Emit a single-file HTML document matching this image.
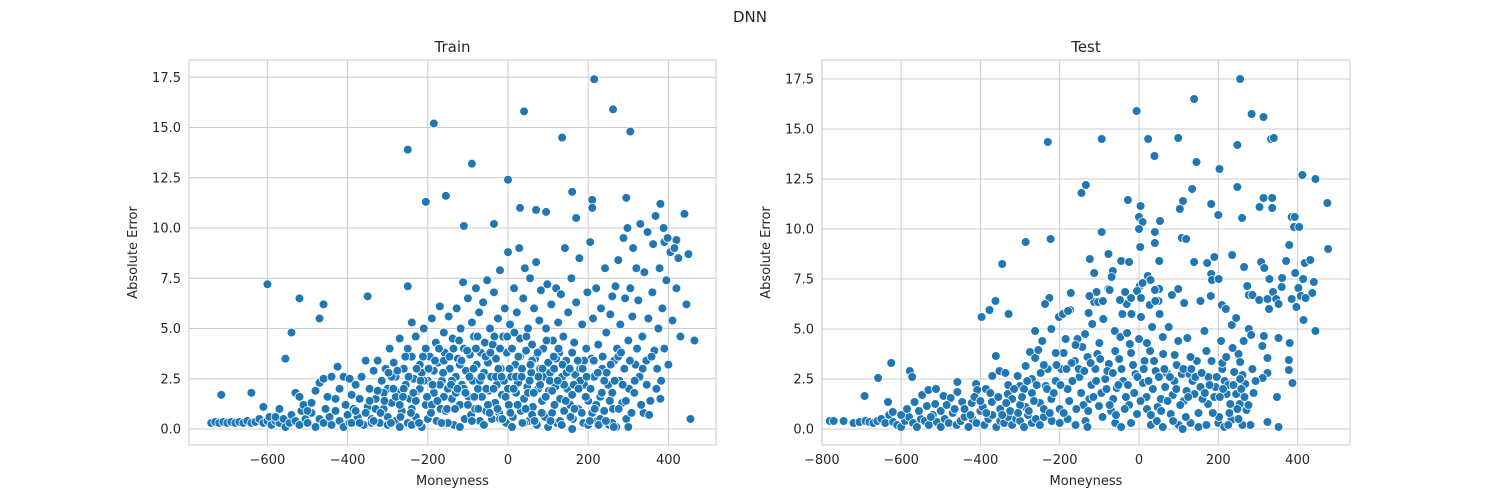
<!DOCTYPE html>
<html><head><meta charset="utf-8">
<style>
body{margin:0;background:#fff;}
svg{display:block;font-family:"DejaVu Sans","Liberation Sans",sans-serif;}
</style></head>
<body>
<svg id="fig" width="1500" height="500" viewBox="0 0 1500 500">
<rect width="1500" height="500" fill="#fff"/>
<text x="750" y="22" text-anchor="middle" font-size="15" fill="#262626">DNN</text>
</svg>
<script>
// ---------- data ----------
const xTicksTrain = [-600,-400,-200,0,200,400];
const xTicksTest = [-800,-600,-400,-200,0,200,400];
const yTicks = [0,2.5,5,7.5,10,12.5,15,17.5];
const yTickLabels = ["0.0","2.5","5.0","7.5","10.0","12.5","15.0","17.5"];

const trainMoneyness = [];
const trainError = [];
const trainPoints = [
[215,17.4],[40,15.8],[262,15.9],[-185,15.2],[305,14.8],[135,14.5],[-250,13.9],[-90,13.2],[0,12.4],[-155,11.6],[-205,11.3],[160,11.8],[210,11.4],[295,11.5],[380,11.2],[30,11.0],[70,10.9],[95,10.8],[210,11.0],[440,10.7],[-110,10.1],[-35,10.2],[170,10.5],[330,10.2],
[-600,7.2],[-715,1.7],[-640,1.8],[-520,6.5],[-460,6.2],[-470,5.5],[-540,4.8],[-555,3.5],[-350,6.6],[-250,7.1],[450,8.7],[465,4.4],[455,0.5],[445,6.2],[390,9.3],[420,9.4],
[-740,.3],[-730,.35],[-720,.3],[-710,.35],[-700,.3],[-690,.35],[-680,.3],[-670,.35],[-660,.3],[-650,.4],[-640,.3],[-630,.35],[-620,.5],[-610,.3],[-600,.4],[-595,.6],[-590,.2],[-580,.4],[-570,.3],[-560,.5],[-555,.1],[-545,.3],[-540,.7],[-530,.4],[-520,.2],[-515,.9],[-505,.5],[-500,.3],[-490,.8],[-480,.1],[-470,.5],[-460,.3],[-455,1.0],[-445,.6],[-440,.2],[-430,.9],[-420,.4],[-410,.1],[-400,.7],[-395,.3],
[-610,1.1],[-580,.6],[-570,1.0],[-530,1.8],[-520,1.6],[-510,1.2],[-500,.9],[-490,1.3],[-480,1.9],[-470,2.3],[-460,2.5],[-450,1.6],[-440,2.6],[-430,1.5],[-425,3.1],[-420,2.0],[-410,2.6],[-405,1.2],[-395,2.5],[-390,1.7],
[-390,.3],[-385,1.0],[-380,2.2],[-375,.6],[-370,1.5],[-365,2.6],[-360,.2],[-355,3.4],[-350,1.1],[-345,2.0],[-340,.5],[-335,2.9],[-330,1.5],[-325,3.4],[-320,.3],[-315,2.4],[-310,1.0],[-305,3.0],[-300,.6],[-300,2.0],[-295,4.0],[-290,1.3],[-285,3.3],[-280,.4],[-280,2.6],[-275,1.8],[-270,4.5],[-265,.9],[-260,3.0],[-255,2.2],[-250,4.0],[-250,.3],[-245,1.5],[-240,3.6],[-240,5.3],[-235,2.5],[-230,.6],[-230,4.6],[-225,1.9],[-220,3.2],[-215,.1],[-215,2.8],[-210,5.0],[-205,1.2],[-205,4.0],[-200,2.4],[-200,.5],[-195,3.6],[-190,5.5],[-185,1.8],[-185,2.9],[-180,4.3],[-178,.4],[-175,3.3],[-170,6.1],[-168,1.0],[-165,2.4],[-160,4.8],[-158,3.8],[-155,.9],[-150,2.0],[-148,5.6],[-145,3.0],[-140,1.5],[-138,4.5],[-135,.2],[-130,2.6],[-128,6.0],[-125,3.5],[-120,1.2],[-118,5.0],[-115,2.2],[-112,7.3],[-110,4.0],[-108,.5],[-105,2.9],[-100,6.5],[-98,1.6],[-95,3.7],[-92,.7],[-90,5.3],[-88,2.4],[-85,4.6],[-82,1.0],[-80,7.0],[-78,3.2],[-75,2.0],[-72,5.8],[-70,.4],[-68,3.8],[-65,1.6],[-62,6.3],[-60,2.8],[-58,4.3],[-55,.9],[-52,7.4],[-50,3.3],[-48,1.9],[-45,5.0],[-42,2.6],[-40,.5],[-38,4.2],[-35,6.8],[-32,1.3],[-30,3.5],[-28,2.2],[-25,5.5],[-22,.8],[-20,7.9],[-18,3.0],[-15,1.7],[-12,4.6],[-10,2.4],[-8,6.0],[-5,.3],[-3,3.8],[0,8.8],[2,1.2],[5,5.2],[8,2.6],[10,4.0],[12,.6],[15,7.0],[18,3.2],[20,1.8],[22,5.8],[25,2.3],[28,9.0],[30,4.5],[32,.9],[35,3.0],[38,6.5],[40,1.5],[42,8.0],[45,3.9],[48,2.1],[50,5.0],[52,.4],[55,7.5],[58,2.8],[60,4.2],[62,1.1],[65,6.0],[68,3.5],[70,8.3],[72,.2],[75,2.0],[78,5.4],[80,3.0],[82,6.9],[85,1.4],[88,4.0],[90,2.6],[92,.6],[95,5.0],[98,7.2],[100,3.3],[102,1.9],[105,2.8],[108,6.2],[110,.8],[112,4.4],[115,3.0],[118,2.1],[120,7.0],[122,.3],[125,5.3],[128,3.8],[130,1.5],[132,6.7],[135,2.6],[138,4.6],[140,.9],[142,9.0],[145,3.4],[148,2.0],[150,5.8],[155,1.2],[158,7.5],[160,3.8],[162,.5],[165,4.3],[168,2.7],[170,6.3],[175,1.0],[178,8.5],[180,3.0],[185,5.2],[188,.3],[190,2.2],[195,4.0],[198,6.8],[200,1.4],[205,9.3],[208,3.5],[210,.8],[212,5.5],[215,2.6],[220,7.0],[222,.4],[225,4.2],[230,1.6],[232,6.0],[235,3.0],[240,.9],[242,8.0],[245,4.8],[250,2.2],[252,.2],[255,5.7],[260,6.6],[262,1.0],[265,3.4],[268,7.1],[270,.1],[272,4.0],[275,8.4],[278,2.4],[280,5.2],[285,1.3],[288,9.5],[290,3.0],[292,6.5],[295,.5],[298,10.0],[300,4.4],[302,2.0],[305,7.0],[310,5.6],[312,9.0],[315,1.8],[318,3.2],[320,8.0],[325,6.4],[328,2.6],[330,10.2],[335,4.6],[338,.8],[340,7.8],[345,3.4],[348,9.8],[350,5.5],[355,1.4],[360,6.8],[362,9.2],[365,3.9],[368,10.6],[370,2.0],[375,5.0],[378,8.0],[380,1.5],[385,6.0],[388,10.0],[390,4.0],[395,7.4],[398,9.5],[400,3.2],[405,8.8],[410,5.4],[415,9.0],[420,7.0],[425,8.5],[430,4.6],
[-60,.2],[-20,.5],[10,.1],[40,.3],[60,.7],[100,.1],[130,.4],[160,0],[200,.2],[230,.5],[260,.3],[300,.1],[-150,.3],[-120,.1],[-90,.4],[-300,.2],[-270,.1],[-340,.3],[-240,.2],
[-330,1.0],[-310,1.8],[-290,2.6],[-270,1.2],[-260,2.0],[-230,1.4],[-210,2.4],[-190,1.2],[-170,2.2],[-160,1.6],[-140,2.4],[-130,1.8],[-110,2.0],[-100,1.2],[-70,2.4],[-50,1.2],[-30,2.6],[0,2.0],[20,2.6],[50,1.8],[60,3.4],[80,2.2],[110,1.9],[140,2.2],[160,1.7],[180,2.4],[190,3.4],[220,1.2],[240,2.4],[260,1.8],[275,3.6],[-120,3.2],[-160,3.4],[-80,4.0],[-20,4.0],[30,3.6],[120,3.5],[-220,2.0],[-240,1.0],[-280,1.6],
[-380,.9],[-370,.3],[-355,.8],[-345,1.4],[-335,.4],[-325,1.9],[-318,.8],[-308,1.4],[-298,2.8],[-292,.3],[-286,2.0],[-276,2.9],[-268,.6],[-262,1.6],[-256,3.6],[-248,2.6],[-242,.8],[-236,1.8],[-228,3.0],[-222,.3],[-218,2.4],[-212,3.6],[-202,1.6],[-198,3.0],[-192,.8],[-188,2.2],[-182,3.4],[-176,1.4],[-172,4.0],[-166,.3],[-162,2.8],[-152,1.0],[-146,3.6],[-142,2.2],[-136,4.0],[-132,1.0],[-126,2.0],[-122,4.4],[-116,3.4],[-106,1.8],[-102,3.9],[-96,2.6],[-86,3.0],[-84,1.6],[-76,4.6],[-74,1.0],[-66,2.6],[-56,3.6],[-54,2.0],[-46,.8],[-44,3.8],[-36,2.0],[-34,4.6],[-26,1.0],[-24,3.0],[-16,2.6],[-14,.5],[-6,1.6],[-2,4.6],[4,3.0],[6,.8],[14,2.0],[16,4.8],[24,1.2],[26,3.6],[34,2.6],[36,.3],[44,1.0],[46,4.6],[54,2.4],[56,3.2],[64,1.8],[66,.4],[74,3.8],[76,2.6],[84,.8],[86,3.0],[94,1.6],[96,4.4],[104,2.4],[106,.4],[114,3.6],[116,1.2],[124,2.4],[126,4.0],[134,.2],[136,3.2],[144,1.4],[146,2.8],[154,3.0],[156,.6],[164,2.2],[166,1.0],[174,3.4],[176,2.0],[184,.8],[186,3.0],[194,1.6],[196,2.6],[204,.4],[206,2.0],[214,3.4],[216,1.0],[224,2.8],[226,.2],[234,1.8],[236,3.6],[244,.4],[246,2.8],[254,1.4],[256,3.2],[264,.1],[266,2.4],[276,1.0],[282,3.8],[286,2.2],[294,1.4],[304,3.4],[308,.8],[316,2.4],[322,4.0],[332,1.2],[336,3.0],[346,2.2],[352,.7],[358,3.6],[372,3.0],[382,2.4]
];

const testMoneyness = [];
const testError = [];
const testPoints = [
[255,17.5],[-6,15.9],[139,16.5],[284,15.75],[314,15.6],[333,14.5],[340,14.55],[-230,14.35],[-94,14.5],[23,14.5],[99,14.55],[248,14.2],[39,13.65],[145,13.35],[203,13.0],[412,12.7],[445,12.5],[-134,12.2],[-145,11.8],[248,12.1],[134,12.0],[475,11.3],[304,11.1],[314,11.55],[336,11.55],[336,11.05],[4,11.15],[-28,11.45],[111,11.4],[103,11.0],[182,11.25],[200,10.7],[260,10.55],[0,10.6],[9,10.35],[53,10.4],[385,10.6],[393,10.6],[391,10.1],[404,10.1],[477,9.0],[-94,9.85],[0,10.0],[40,9.85],[40,9.3],[3,9.1],[108,9.55],[119,9.5],[379,9.2],[-286,9.35],[-223,9.5],[-345,8.25],[139,8.35],[172,8.3],[190,8.6],[235,8.7],[51,8.4],[-45,8.4],[-25,8.35],[-124,8.5],[-77,8.75],[-113,7.8],[-66,7.9],[265,8.1],[308,8.35],[316,8.05],[371,8.4],[418,8.3],[432,8.45],[394,7.8],[329,7.5],[361,7.55],[414,7.5],[441,7.35],[273,7.15],[182,7.75],[184,7.45],[201,7.5],[22,7.65],[29,7.45],[2,7.15],[-69,7.6],[-77,7.0],[99,7.0],[51,7.0],[40,6.95],[277,6.7],[286,6.7],[338,6.85],[360,7.1],[402,7.05],[408,6.65],[437,6.8],[420,6.55],[303,6.45],[324,6.5],[346,6.5],[352,6.25],[397,6.1],[385,6.5],[328,6.0],[155,6.4],[181,6.65],[83,6.7],[114,6.3],[49,6.4],[27,6.2],[41,6.4],[-31,6.25],[-48,6.45],[-20,6.55],[-35,6.85],[-5,6.9],[5,6.55],[9,7.3],[-113,6.35],[-103,6.35],[-107,6.85],[-91,6.4],[-125,6.65],[-172,6.8],[-180,5.9],[-174,5.95],[-74,6.95],[-226,6.55],[-237,6.25],[-362,6.4],[-377,5.95],[-397,5.6],[-329,5.75],[415,5.45],[445,4.9],[234,5.2],[245,5.55],[209,6.2],[219,6.0],
[352,4.55],[380,4.3],[277,5.0],[283,4.7],[315,4.65],[264,4.4],[311,4.15],[324,3.55],[324,2.8],[312,2.55],[378,2.95],[378,3.45],[387,2.3],[348,1.6],[324,.35],[352,.1],[289,1.8],[294,2.4],[268,2.25],[261,2.7],[271,.95],[281,.2],[261,.2],[233,.45],[251,.5],[255,2.5],[251,3.75],[255,3.35],[236,4.05],
[-780,.4],[-770,.4],[-745,.4],[-720,.3],[-705,.35],[-690,.4],[-680,.35],[-670,.3],[-660,.4],[-650,.5],[-640,.3],[-630,.7],[-620,.35],[-610,.2],[-600,.1],[-590,.4],[-580,.6],[-570,.3],[-560,.1],[-550,.5],[-540,.4],[-530,.2],[-520,.7],[-510,.35],[-500,.1],[-490,.5],[-480,.3],[-470,.8],[-460,.2],[-450,.4],[-440,.6],[-430,.1],[-420,.5],[-410,.3],[-400,.9],[-390,.2],[-380,.5],[-370,.7],[-360,.1],[-350,.4],[-340,.3],[-330,.6],[-320,.2],[-310,.5],[-300,.4],[-290,.1],[-280,.7],[-270,.3],[-260,.5],[-250,.2],[-240,.6],[-220,.4],[-200,.3],[-180,.5],[-160,.2],[-135,.4],[-130,.1],[-60,.3],[-45,.1],[-20,.3],[30,.2],[45,.4],[60,.1],[100,.2],[110,0],[130,.3],[150,.1],[170,.2],[200,.3],[215,.1],[225,.2],
[-692,1.65],[-658,2.55],[-625,3.3],[-633,1.35],[-621,.85],[-578,2.9],[-572,2.6],[-566,1.35],[-547,1.7],[-531,1.95],[-512,2.0],[-535,1.15],[-514,1.25],[-493,1.65],[-475,1.55],[-458,2.35],[-458,1.85],[-446,1.35],[-422,1.3],[-411,2.25],[-408,1.95],[-386,2.0],[-394,1.1],[-371,1.35],[-361,3.65],[-370,2.65],[-352,2.9],[-337,2.8],[-331,1.75],[-306,2.65],[-300,2.15],[-286,3.15],[-275,3.85],[-286,1.1],[-270,2.5],[-262,4.9],[-262,3.55],[-254,3.95],[-244,4.4],[-235,2.15],[-221,5.0],[-221,1.5],[-202,5.6],[-196,3.0],[-192,5.75],[-185,4.5],[-179,5.9],[-162,3.4],[-155,4.5],[-143,4.1],[-136,4.75],[-127,5.8],[-125,1.5],[-118,5.25],[-105,3.75],[-101,1.15],[-90,5.5],[-85,2.5],[-76,3.25],[-70,.9],[-61,4.9],[-56,2.05],[-47,4.6],[-42,5.75],[-33,1.6],[-23,4.25],[-19,5.75],[-9,2.75],[-5,.75],[0,4.5],[5,5.6],[14,3.4],[19,1.6],[28,3.9],[33,5.1],[42,2.9],[47,1.1],[52,5.75],[61,3.75],[66,2.1],[75,5.1],[80,.75],[89,2.4],[99,4.4],[108,2.75],[113,1.4],[122,4.55],[127,2.75],[140,1.75],[146,3.4],[155,2.1],[165,4.9],[174,1.25],[183,3.4],[193,2.1],[202,.6],[207,4.4],[216,2.4],[221,1.75],[230,1.25],[240,2.85],[245,1.75],[254,1.25],
[-350,1.0],[-320,1.5],[-290,2.0],[-250,1.3],[-230,3.0],[-210,2.4],[-200,1.0],[-180,2.0],[-170,3.3],[-150,2.6],[-140,1.2],[-120,2.2],[-110,3.0],[-95,1.8],[-80,2.9],[-65,1.5],[-50,3.5],[-40,2.4],[-25,1.2],[-15,3.2],[10,2.3],[20,1.0],[35,2.0],[55,1.5],[70,2.8],[85,1.7],[95,3.2],[120,1.9],[135,2.4],[160,1.5],[175,2.6],[190,1.6],[210,3.0],[225,2.2],[-190,3.8],[-160,4.2],[-130,3.6],[-100,4.3],[-60,3.9],[-30,4.8],[20,4.3],[60,4.6],[90,3.7],[130,3.6],[170,3.9],[210,3.3],[-240,3.2],[-210,3.8],[-300,1.2],[-330,2.2],[-270,1.8],
[-600,.7],[-585,1.0],[-555,.9],[-525,.6],[-500,.9],[-485,1.2],[-465,1.0],[-440,1.0],[-425,.7],[-415,1.6],[-400,1.4],[-385,.8],[-375,1.8],[-355,1.6],[-345,.7],[-335,1.3],[-325,.9],[-315,2.0],[-305,.8],[-295,1.6],[-282,2.4],[-278,.9],[-265,1.4],[-258,2.2],[-248,2.8],[-240,1.0],[-232,2.0],[-225,.8],[-215,1.8],[-208,3.2],[-198,2.2],[-190,.8],[-183,3.0],[-176,1.4],[-168,2.4],[-158,1.0],[-152,3.0],[-146,1.8],[-138,2.9],[-128,.9],[-122,3.3],[-115,1.6],[-108,2.4],[-98,3.5],[-92,.6],[-82,2.0],[-74,1.2],[-66,2.8],[-58,.7],[-52,2.2],[-44,3.0],[-36,1.0],[-28,2.2],[-20,3.8],[-12,1.8],[-4,2.6],[4,1.4],[12,3.0],[24,2.4],[30,.7],[38,3.4],[50,2.6],[56,.9],[64,3.0],[72,1.4],[78,2.6],[86,.4],[94,2.0],[104,1.2],[112,3.0],[118,.6],[124,1.6],[132,3.0],[142,2.6],[150,.8],[158,2.8],[166,1.8],[178,2.2],[186,.8],[196,2.6],[204,1.6],[212,2.0],[220,3.6],[228,.8],[238,2.2],[248,1.0],[258,2.0],[266,1.6],[276,1.2],[286,3.0]
];
trainPoints.forEach(p=>{trainMoneyness.push(p[0]);trainError.push(p[1]);});
testPoints.forEach(p=>{testMoneyness.push(p[0]);testError.push(p[1]);});

// ---------- drawing ----------
const NS="http://www.w3.org/2000/svg";
const svg=document.getElementById('fig');
function mk(tag,attrs,parent){const e=document.createElementNS(NS,tag);for(const k in attrs)e.setAttribute(k,attrs[k]);(parent||svg).appendChild(e);return e;}

function panel(cfg){
  const g=mk('g',{});
  
  
  const sx=v=>cfg.x0+cfg.kx*v;
  const sy=v=>cfg.y0-cfg.ky*v;
  cfg.xTicks.forEach(t=>{
    const l=mk('line',{x1:sx(t),x2:sx(t),y1:cfg.top,y2:cfg.bottom,stroke:'#cccccc','stroke-width':1},g);
    
    
    const tx=mk('text',{x:sx(t),y:cfg.bottom+19,'text-anchor':'middle','font-size':13,fill:'#262626'},g);
    tx.textContent=String(t).replace('-','\u2212');
    
    
  });
  yTicks.forEach((t,i)=>{
    const l=mk('line',{x1:cfg.left,x2:cfg.right,y1:sy(t),y2:sy(t),stroke:'#cccccc','stroke-width':1},g);
    
    
    const tx=mk('text',{x:cfg.left-8,y:sy(t)+4.5,'text-anchor':'end','font-size':13,fill:'#262626'},g);
    tx.textContent=yTickLabels[i];
    
    
  });
  const box=mk('rect',{x:cfg.left,y:cfg.top,width:cfg.right-cfg.left,height:cfg.bottom-cfg.top,fill:'none',stroke:'#cccccc','stroke-width':1},g);
  
  
  const pg=mk('g',{},g);
  
  
  cfg.xs.forEach((v,i)=>{
    const c=mk('circle',{cx:sx(v),cy:sy(cfg.ys[i]),r:4.4,fill:'#1f77b4',stroke:'#ffffff','stroke-width':0.8},pg);
    
    
  });
  const ttl=mk('text',{x:(cfg.left+cfg.right)/2,y:cfg.top-8,'text-anchor':'middle','font-size':15,fill:'#262626'},g);
  ttl.textContent=cfg.title;
  
  
  const xl=mk('text',{x:(cfg.left+cfg.right)/2,y:cfg.bottom+40,'text-anchor':'middle','font-size':13,fill:'#262626'},g);
  xl.textContent='Moneyness';
  
  
  const yc=(cfg.top+cfg.bottom)/2;
  const yl=mk('text',{x:cfg.left-52,y:yc,'text-anchor':'middle','font-size':13,fill:'#262626',transform:`rotate(-90 ${cfg.left-52} ${yc})`},g);
  yl.textContent='Absolute Error';
  
  
}
panel({key:'train',title:'Train',left:189,right:716,top:60,bottom:445,x0:508,kx:0.401,y0:429,ky:20.1,xTicks:xTicksTrain,xs:trainMoneyness,ys:trainError});
panel({key:'test',title:'Test',left:822,right:1350,top:60,bottom:445,x0:1139,kx:0.3965,y0:429,ky:20.0,xTicks:xTicksTest,xs:testMoneyness,ys:testError});
</script>
</body></html>
